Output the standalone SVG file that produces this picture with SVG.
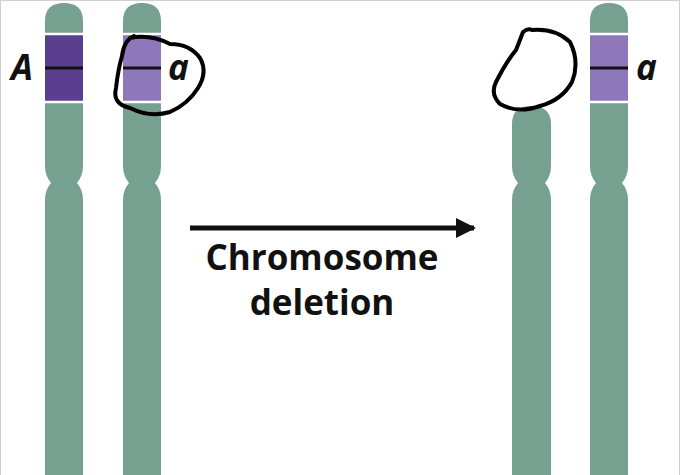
<svg xmlns="http://www.w3.org/2000/svg" width="681" height="475" viewBox="0 0 681 475">
<defs>
<style>
.chr{fill:#76a090}
.sep{stroke:#fff;stroke-width:2.5}
.mid{stroke:#111;stroke-width:3}
.lbl{font-family:"Open Sans","Liberation Sans",sans-serif;font-weight:bold;font-style:italic;font-size:35px;fill:#111}
.cap{font-family:"Open Sans","Liberation Sans",sans-serif;font-weight:bold;font-size:35px;fill:#111;text-anchor:middle}
.ink{fill:none;stroke:#000;stroke-width:4;stroke-linejoin:round;stroke-linecap:round}
</style>
<marker id="ah" viewBox="0 0 10 10" refX="9" refY="5" markerWidth="5.5" markerHeight="4" orient="auto" markerUnits="strokeWidth"><path d="M0,0 L10,5 L0,10 Z" fill="#111"/></marker>
</defs>
<rect x="0" y="0" width="681" height="475" fill="#fff"/>
<rect x="0.5" y="0.5" width="679" height="480" fill="none" stroke="#d0d0d0"/>
<g id="chrA">
<path class="chr" d="M45,21 Q45,3 64,3 Q83,3 83,21 L83,166 Q83,176 77,183 Q83,190 83,200 L83,480 L45,480 L45,200 Q45,190 51,183 Q45,176 45,166 Z"/>
<rect x="45" y="34" width="38" height="68" fill="#5b3f8f"/>
<line class="sep" x1="45" y1="34" x2="83" y2="34"/><line class="sep" x1="45" y1="102" x2="83" y2="102"/>
<line class="mid" x1="45" y1="68" x2="83" y2="68"/>
<text class="lbl" x="11" y="80">A</text>
</g>
<g id="chra1">
<path class="chr" d="M123,21 Q123,3 142,3 Q161,3 161,21 L161,166 Q161,176 155,183 Q161,190 161,200 L161,480 L123,480 L123,200 Q123,190 129,183 Q123,176 123,166 Z"/>
<rect x="123" y="34" width="38" height="68" fill="#8e78bb"/>
<line class="sep" x1="123" y1="34" x2="161" y2="34"/><line class="sep" x1="123" y1="102" x2="161" y2="102"/>
<line class="mid" x1="123" y1="68" x2="161" y2="68"/>
<text class="lbl" x="168" y="80">a</text>
<path class="ink" d="M130,38 Q150,34 170,44 Q190,44 200,58 Q208,72 198,88 Q188,104 170,112 Q150,118 130,108 Q112,104 116,88 Q118,70 122,56 Q124,40 134,36"/>
</g>
<g id="chrdel">
<path class="chr" d="M512,124 Q512,106 531,106 Q551,106 551,124 L551,166 Q551,176 545,183 Q551,190 551,200 L551,480 L512,480 L512,200 Q512,190 518,183 Q512,176 512,166 Z"/>
<path class="ink" d="M523,32 Q528,28 532,30 Q555,28 570,42 Q580,62 572,82 Q562,100 540,106 Q518,114 500,104 Q490,94 496,82 Q506,62 516,50 Q520,40 523,32"/>
</g>
<g id="chra2">
<path class="chr" d="M590,21 Q590,3 609,3 Q628,3 628,21 L628,166 Q628,176 622,183 Q628,190 628,200 L628,480 L590,480 L590,200 Q590,190 596,183 Q590,176 590,166 Z"/>
<rect x="590" y="34" width="38" height="68" fill="#8e78bb"/>
<line class="sep" x1="590" y1="34" x2="628" y2="34"/><line class="sep" x1="590" y1="102" x2="628" y2="102"/>
<line class="mid" x1="590" y1="68" x2="628" y2="68"/>
<text class="lbl" x="636" y="80">a</text>
</g>
<g id="connectors">
<line x1="190" y1="228" x2="474" y2="228" stroke="#111" stroke-width="5" marker-end="url(#ah)"/>
</g>
<text class="cap" x="322" y="270">Chromosome</text>
<text class="cap" x="322" y="315">deletion</text>
</svg>
